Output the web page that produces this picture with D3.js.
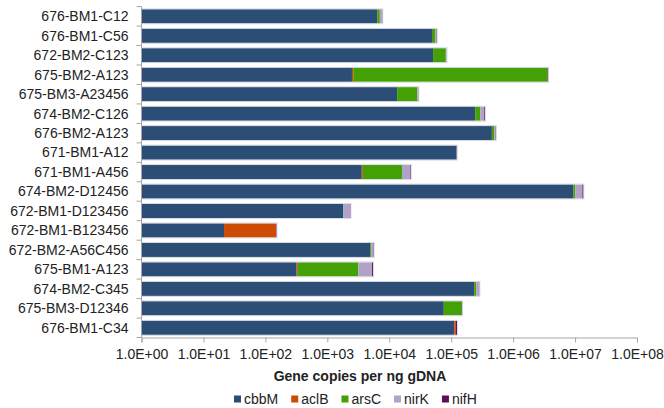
<!DOCTYPE html>
<html>
<head>
<meta charset="utf-8">
<script src="https://cdn.jsdelivr.net/npm/d3@7"></script>
<style>
  body { margin: 0; background: #fff; }
  text { font-family: "Liberation Sans", Arial, sans-serif; fill: #222; }
</style>
</head>
<body>
<div class="render"></div>
<script>
var categories = ['676-BM1-C12', '676-BM1-C56', '672-BM2-C123', '675-BM2-A123', '675-BM3-A23456',
    '674-BM2-C126', '676-BM2-A123', '671-BM1-A12', '671-BM1-A456', '674-BM2-D12456',
    '672-BM1-D123456', '672-BM1-B123456', '672-BM2-A56C456', '675-BM1-A123', '674-BM2-C345',
    '675-BM3-D12346', '676-BM1-C34'];
var genes = ['cbbM', 'aclB', 'arsC', 'nirK', 'nifH'];
var cbbM = [6400, 49000, 51000, 2500, 13400, 244000, 454000, 121000, 3600, 9350000, 1800, 21.5, 5000, 320, 235000, 76000, 112000];
var aclB = [0, 0, 0, 120, 0, 0, 0, 0, 150, 0, 0, 127, 0, 14, 0, 0, 7000];
var arsC = [650, 6000, 31000, 3600000, 15000, 50000, 41000, 0, 12300, 700000, 30, 0, 180, 2850, 19000, 73000, 0];
var nirK = [600, 2500, 2000, 0, 800, 47000, 25000, 0, 5700, 3100000, 500, 0, 330, 2100, 29000, 0, 0];
var nifH = [100, 1000, 300, 90000, 400, 9000, 7000, 2000, 500, 500000, 40, 3, 100, 200, 3000, 1500, 5000];
var tickValues = [1, 10, 100, 1e3, 1e4, 1e5, 1e6, 1e7, 1e8];
var colors = ['#2c4d75', '#cc4b05', '#43a105', '#b3a2c7', '#5c1152'];

var rows = categories.map(function(c, i) {
    return {cat: c, cbbM: cbbM[i], aclB: aclB[i], arsC: arsC[i], nirK: nirK[i], nifH: nifH[i]};
});

var margin = {top: 6.6, right: 27, bottom: 70.5, left: 141.5},
    W = 664, H = 408,
    width = W - margin.left - margin.right,
    height = H - margin.top - margin.bottom;

var svg = d3.select(".render").append("svg")
    .attr("width", W).attr("height", H);
var g = svg.append("g")
    .attr("transform", "translate(" + margin.left + "," + margin.top + ")");

var x = d3.scaleLog().domain([1, 1e8]).range([0, width]).clamp(true);
var y = d3.scaleBand().domain(categories).range([0, height]).paddingInner(0.28).paddingOuter(0.14);
var color = d3.scaleOrdinal().domain(genes).range(colors);

var series = d3.stack().keys(genes)(rows);

g.selectAll("g.layer")
    .data(series)
    .enter().append("g")
    .attr("class", "layer")
    .attr("fill", function(d) { return color(d.key); })
    .selectAll("rect")
    .data(function(d) { return d; })
    .enter().append("rect")
    .attr("x", function(d) { return x(Math.max(d[0], 1)); })
    .attr("y", function(d) { return y(d.data.cat); })
    .attr("height", y.bandwidth())
    .attr("width", function(d) { return Math.max(0, x(Math.max(d[1], 1)) - x(Math.max(d[0], 1))); });

// bar outline (light edge)
g.selectAll("rect.edge")
    .data(rows)
    .enter().append("rect")
    .attr("class", "edge")
    .attr("x", 0)
    .attr("y", function(d) { return y(d.cat) - 0.5; })
    .attr("height", y.bandwidth() + 1)
    .attr("width", function(d) { return x(d.cbbM + d.aclB + d.arsC + d.nirK + d.nifH) + 0.5; })
    .attr("fill", "none")
    .attr("stroke", "#c9d0db")
    .attr("stroke-width", 0.7);

// x axis
var xAxis = g.append("g")
    .attr("transform", "translate(0," + height + ")")
    .call(d3.axisBottom(x).tickValues(tickValues).tickSize(5).tickPadding(7)
        .tickFormat(function(d) { return d.toExponential(1).replace('e', 'E').replace(/E([+-])(\d)$/, 'E$10$2'); }));
xAxis.select(".domain").attr("stroke", "#a6a6a6");
xAxis.selectAll("line").attr("stroke", "#a6a6a6");
xAxis.selectAll("text").style("font-size", "14px").style("font-family", "Liberation Sans, Arial, sans-serif").attr("fill", "#222");

// y axis: ticks at band boundaries
var yAxis = g.append("g");
yAxis.append("line")
    .attr("x1", 0).attr("x2", 0).attr("y1", 0).attr("y2", height)
    .attr("stroke", "#a6a6a6");
var bounds = categories.map(function(c) { return y(c) - y.step() * y.paddingInner() / 2; });
bounds.push(height);
yAxis.selectAll("line.tick")
    .data(bounds)
    .enter().append("line")
    .attr("class", "tick")
    .attr("x1", -5).attr("x2", 0)
    .attr("y1", function(d) { return d; }).attr("y2", function(d) { return d; })
    .attr("stroke", "#a6a6a6");
yAxis.selectAll("text")
    .data(categories)
    .enter().append("text")
    .attr("x", -13)
    .attr("y", function(d) { return y(d) + y.bandwidth() / 2; })
    .attr("dy", "0.35em")
    .attr("text-anchor", "end")
    .style("font-size", "14px")
    .text(function(d) { return d; });

// axis title
svg.append("text")
    .attr("x", 360).attr("y", 381)
    .attr("text-anchor", "middle")
    .style("font-size", "14px")
    .style("font-weight", "bold")
    .text("Gene copies per ng gDNA");

// legend
var legend = svg.append("g").attr("transform", "translate(234,399)");
var lx = 0;
genes.forEach(function(k) {
    var item = legend.append("g").attr("transform", "translate(" + lx + ",0)");
    item.append("rect").attr("x", 0).attr("y", -3.5).attr("width", 7).attr("height", 7).attr("fill", color(k));
    var t = item.append("text").attr("x", 10).attr("dy", "0.35em").style("font-size", "14px").text(k);
    lx += 10 + t.node().getComputedTextLength() + 13;
});
</script>
</body>
</html>
